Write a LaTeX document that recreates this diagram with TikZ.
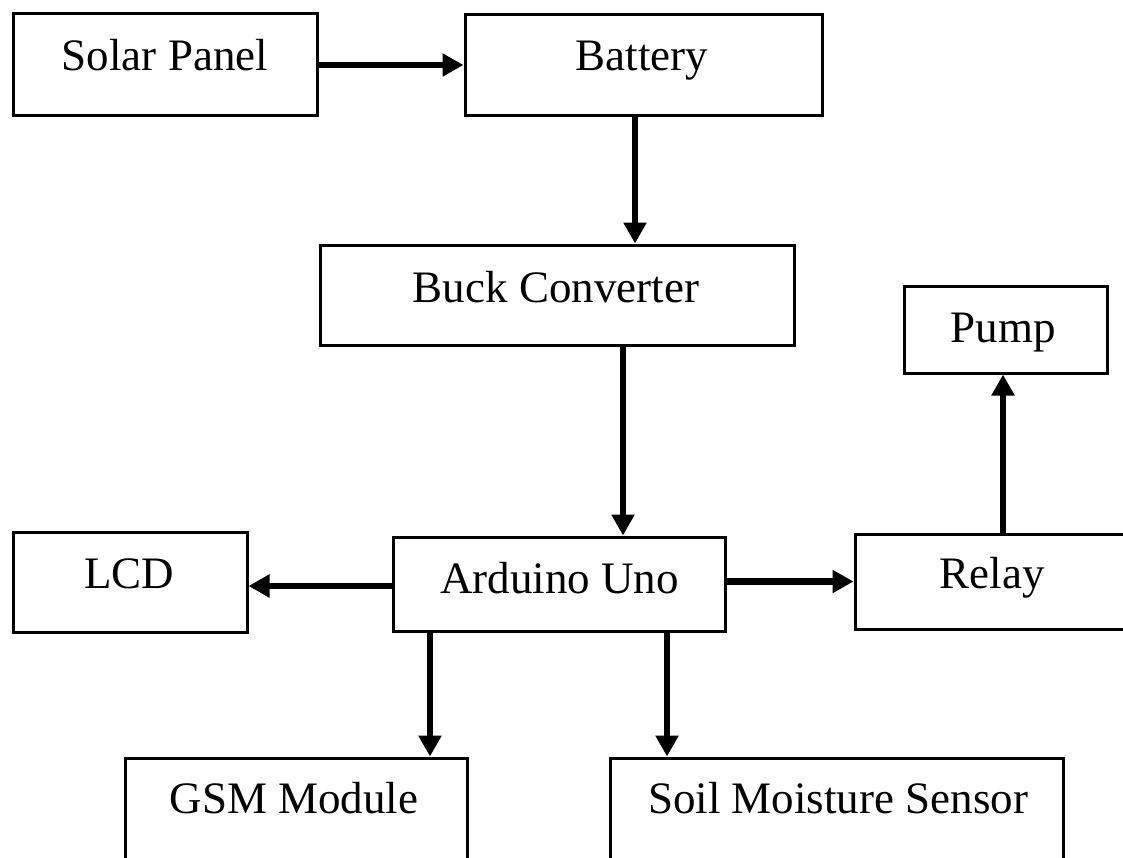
\documentclass[tikz,border=0pt]{standalone}
\usepackage{fontspec}
\setmainfont{Liberation Serif}
\usetikzlibrary{arrows.meta}
\begin{document}
\begin{tikzpicture}[x=1pt,y=-1pt,
  box/.style={draw=black,line width=3pt,rectangle,inner sep=0pt,fill=white},
  lbl/.style={anchor=base,inner sep=0pt,font=\fontsize{45}{54}\selectfont},
  arr/.style={line width=6.5pt,-{Triangle[length=21pt,width=22pt]}}]
\useasboundingbox[fill=white] (0,0) rectangle (1123,857);
% boxes
\node[box,minimum width=304pt,minimum height=102pt] (solar) at (165,64) {};
\node[box,minimum width=357pt,minimum height=101pt] (bat) at (643.5,64.5) {};
\node[box,minimum width=474pt,minimum height=100pt] (buck) at (557,295) {};
\node[box,minimum width=203pt,minimum height=87pt] (pump) at (1005.5,329.5) {};
\node[box,minimum width=234pt,minimum height=100pt] (lcd) at (130,582) {};
\node[box,minimum width=332pt,minimum height=94pt] (ard) at (559,584) {};
\node[box,minimum width=274pt,minimum height=95pt] (relay) at (992,581.5) {};
\node[box,minimum width=342pt,minimum height=102pt] (gsm) at (296,809) {};
\node[box,minimum width=453pt,minimum height=102pt] (soil) at (836.5,809) {};
% labels
\node[lbl] (tsolar) at (165,70) {Solar Panel};
\node[lbl] (tbat) at (642,70) {Battery};
\node[lbl] (tbuck) at (556,302) {Buck Converter};
\node[lbl] (tpump) at (1003,342) {Pump};
\node[lbl] (tlcd) at (129,588) {LCD};
\node[lbl] (tard) at (559.5,593) {Arduino Uno};
\node[lbl] (trelay) at (992,588) {Relay};
\node[lbl] (tgsm) at (294,813) {GSM Module};
\node[lbl] (tsoil) at (838,813) {Soil Moisture Sensor};
% connectors
\draw[arr] ([yshift=-1pt]solar.east) -- ([yshift=-1pt]solar.east -| bat.west);
\draw[arr] ([xshift=-8.5pt]bat.south) -- ([xshift=-8.5pt]bat.south |- buck.north);
\draw[arr] ([xshift=66pt]buck.south) -- ([xshift=66pt]buck.south |- ard.north);
\draw[arr] ([yshift=-2pt]ard.west) -- ([yshift=-2pt]ard.west -| lcd.east);
\draw[arr] (ard.east |- relay.west) -- (relay.west);
\draw[arr] ([xshift=-2.5pt]pump.south |- relay.north) -- ([xshift=-2.5pt]pump.south);
\draw[arr] ([xshift=-129pt]ard.south) -- ([xshift=-129pt]ard.south |- gsm.north);
\draw[arr] ([xshift=108pt]ard.south) -- ([xshift=108pt]ard.south |- soil.north);
\end{tikzpicture}
\end{document}
